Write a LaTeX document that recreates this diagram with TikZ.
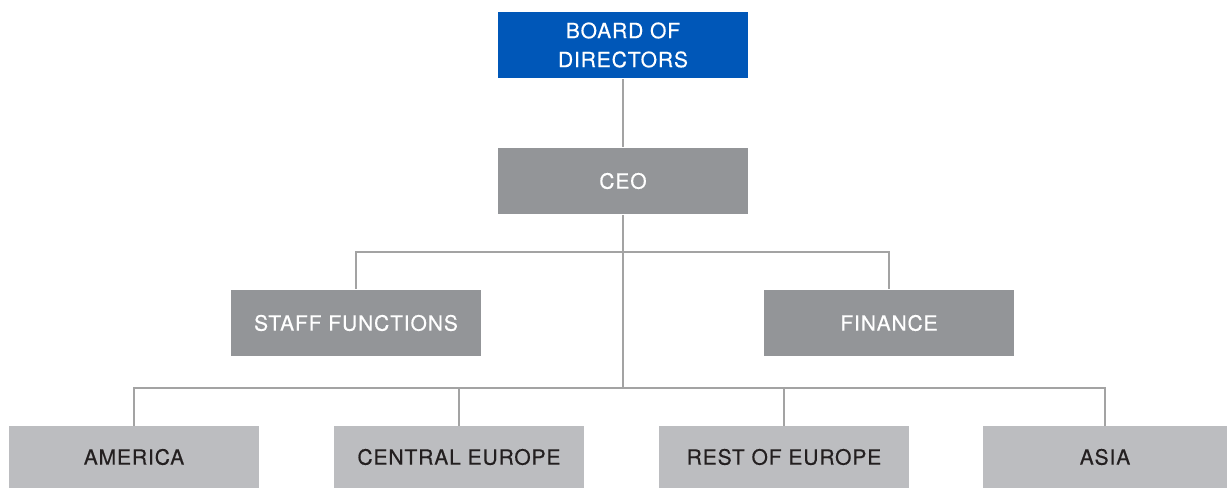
\documentclass[tikz,border=0pt]{standalone}
\usepackage{fontspec}
\setmainfont{TeX Gyre Heros}[LetterSpace=4, FakeBold=0.4]
\definecolor{boardblue}{HTML}{0057B8}
\definecolor{midgray}{HTML}{939598}
\definecolor{lightgray}{HTML}{BCBDC0}
\definecolor{linegray}{HTML}{A3A3A3}
\definecolor{inkdark}{HTML}{231F20}
\tikzset{
  unitbox/.style={minimum width=5cm, minimum height=1.34cm, inner sep=0pt,
    align=center, font=\fontsize{12}{16.5}\selectfont},
  topbox/.style={unitbox, fill=boardblue, text=white},
  headbox/.style={unitbox, fill=midgray, text=white},
  regionbox/.style={unitbox, minimum height=1.24cm, fill=lightgray, text=inkdark},
  link/.style={draw=linegray, line width=0.8pt}
}
\begin{document}
\begin{tikzpicture}[x=0.02cm, y=-0.02cm]
    \useasboundingbox (0,0) rectangle (1227,487);

    % ebenen der organisation
    \node[topbox]  (board)   at (623,45) {BOARD OF\\DIRECTORS};
    \node[headbox] (ceo)     at (623,181)  {CEO};
    \node[headbox] (staff)   at (356,323) {STAFF FUNCTIONS};
    \node[headbox] (finance) at (889,323) {FINANCE};

    % regionen
    \node[regionbox] (america) at (134,457) {AMERICA};
    \node[regionbox] (central) at (459,457) {CENTRAL EUROPE};
    \node[regionbox] (rest)    at (784,457) {REST OF EUROPE};
    \node[regionbox, minimum width=4.88cm] (asia) at (1105,457) {ASIA};

    % verzweigungspunkte
    \coordinate (hubA) at (623,252);
    \coordinate (hubB) at (623,388);

    % verbindungen
    \draw[link] (board) -- (ceo);
    \draw[link] (ceo.south) -- (hubB);
    \draw[link] (staff.north) |- (hubA) -| (finance.north);
    \draw[link] (america.north) |- (hubB) -| (asia.north);
    \draw[link] (central.north) -- (central.north |- hubB);
    \draw[link] (rest.north) -- (rest.north |- hubB);

\end{tikzpicture}
\end{document}
